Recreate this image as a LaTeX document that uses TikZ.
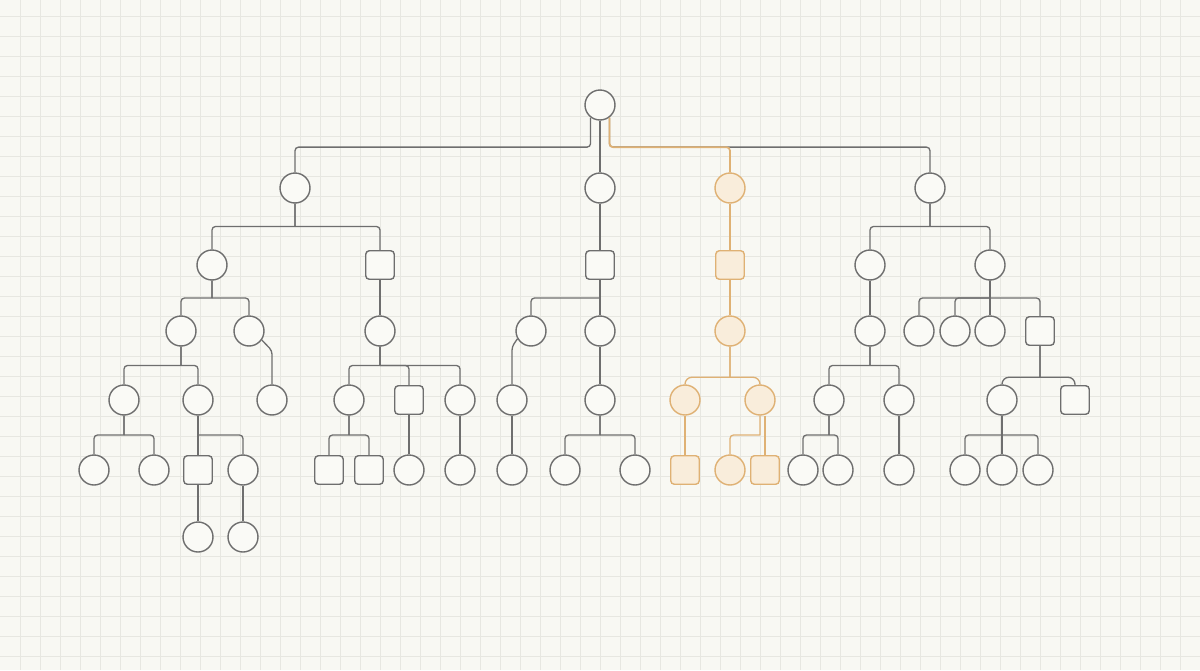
\documentclass[tikz,border=0pt]{standalone}
\usetikzlibrary{calc}
\definecolor{paper}{HTML}{F8F8F3}
\definecolor{gridc}{HTML}{E7E7E1}
\definecolor{ink}{HTML}{6E6E6E}
\definecolor{amber}{HTML}{DFB174}
\definecolor{amberfill}{HTML}{F9EDDB}
\definecolor{nodefill}{HTML}{FAFAF6}

\begin{document}
\begin{tikzpicture}[x=0.02cm,y=-0.02cm,
round/.style={circle,draw=ink,fill=nodefill,line width=0.8pt,inner sep=0pt,minimum size=0.6cm},
box/.style={rectangle,rounded corners=2pt,draw=ink,fill=nodefill,line width=0.8pt,inner sep=0pt,minimum size=0.57cm},
hround/.style={round,draw=amber,fill=amberfill},
hbox/.style={box,draw=amber,fill=amberfill},
link/.style={draw=ink,line width=0.75pt,rounded corners=2pt},
hlink/.style={link,draw=amber},
elbow/.style={to path={|- ($(\tikztostart)!#1!(\tikztotarget)$) -| (\tikztotarget) \tikztonodes}},
elbow/.default=.5,
bus/.style={to path={let \p1=($(\tikztostart)!#1!(\tikztotarget)$), \p2=(\tikztostart) in
  -- (\x2,\y1) (\x2,\y1) -| (\tikztotarget) \tikztonodes}},
bus/.default=.5,
gridline/.style={draw=gridc,line width=0.55pt},
]
\useasboundingbox (0,0) rectangle (1200,670);
\fill[paper] (0,0) rectangle (1200,670);

% squared paper
\foreach \gx in {1,...,59}
{
\draw[gridline] (20*\gx,0) -- (20*\gx,670);
}
\foreach \gy in {0,...,32}
{
\draw[gridline] (0,16.7+20*\gy) -- (1200,16.7+20*\gy);
}

\node [round] (R) at (600,105) {};

\node [round] (A) at (295,188) {};
\node [round] (B) at (600,188) {};
\node [hround] (C) at (730,188) {};
\node [round] (D) at (930,188) {};

% left branch
\node [round] (A1) at (212,265) {};
\node [box] (A2) at (380,265) {};
\node [round] (A11) at (181,331) {};
\node [round] (A12) at (249,331) {};
\node [round] (A21) at (380,331) {};
\node [round] (A111) at (124,400) {};
\node [round] (A112) at (198,400) {};
\node [round] (A121) at (272,400) {};
\node [round] (A211) at (349,400) {};
\node [box] (A212) at (409,400) {};
\node [round] (A213) at (460,400) {};
\node [round] (A1111) at (94,470) {};
\node [round] (A1112) at (154,470) {};
\node [box] (A1121) at (198,470) {};
\node [round] (A1122) at (243,470) {};
\node [box] (A2111) at (329,470) {};
\node [box] (A2112) at (369,470) {};
\node [round] (A2121) at (409,470) {};
\node [round] (A2131) at (460,470) {};
\node [round] (A11211) at (198,537) {};
\node [round] (A11221) at (243,537) {};

% middle branch
\node [box] (B1) at (600,265) {};
\node [round] (B11) at (531,331) {};
\node [round] (B12) at (600,331) {};
\node [round] (B111) at (512,400) {};
\node [round] (B121) at (600,400) {};
\node [round] (B1111) at (512,470) {};
\node [round] (B1211) at (565,470) {};
\node [round] (B1212) at (635,470) {};

% highlighted branch
\node [hbox] (C1) at (730,265) {};
\node [hround] (C11) at (730,331) {};
\node [hround] (C111) at (685,400) {};
\node [hround] (C112) at (760,400) {};
\node [hbox] (C1111) at (685,470) {};
\node [hround] (C1121) at (730,470) {};
\node [hbox] (C1122) at (765,470) {};

% right branch
\node [round] (D1) at (870,265) {};
\node [round] (D2) at (990,265) {};
\node [round] (D11) at (870,331) {};
\node [round] (D21) at (919,331) {};
\node [round] (D22) at (955,331) {};
\node [round] (D23) at (990,331) {};
\node [box] (D24) at (1040,331) {};
\node [round] (D111) at (829,400) {};
\node [round] (D112) at (899,400) {};
\node [round] (D241) at (1002,400) {};
\node [box] (D242) at (1075,400) {};
\node [round] (D1111) at (803,470) {};
\node [round] (D1112) at (838,470) {};
\node [round] (D1121) at (899,470) {};
\node [round] (D2411) at (965,470) {};
\node [round] (D2412) at (1002,470) {};
\node [round] (D2413) at (1038,470) {};

% root
\draw [link] (R.-127) to[elbow=.42] (A);
\draw [link] (R) -- (B);
\draw [link] (R.-53) to[elbow=.42] (D);

\foreach \c in {A1, A2}
{
\draw [link] (A) to[bus] (\c);
}
\foreach \c in {A11, A12}
{
\draw [link] (A1) to[bus] (\c);
}
\draw [link] (A2) -- (A21);
\foreach \c in {A111, A112}
{
\draw [link] (A11) to[bus] (\c);
}
\draw [link] (A12.-35) -- ($(A12.south -| A121)+(0,4)$) -- (A121);
\foreach \c in {A1111, A1112}
{
\draw [link] (A111) to[bus] (\c);
}
\draw [link] (A112) -- (A1121);
\draw [link] (A112) to[bus] (A1122);
\draw [link] (A1121) -- (A11211);
\draw [link] (A1122) -- (A11221);
\foreach \c in {A211, A212, A213}
{
\draw [link] (A21) to[bus] (\c);
}
\foreach \c in {A2111, A2112}
{
\draw [link] (A211) to[bus] (\c);
}
\draw [link] (A212) -- (A2121);
\draw [link] (A213) -- (A2131);

\draw [link] (B) -- (B1);
\draw [link] (B1) to[bus] (B11);
\draw [link] (B1) -- (B12);
\draw [link] (B11.-150) -- (B11.south -| B111) -- (B111);
\draw [link] (B111) -- (B1111);
\draw [link] (B12) -- (B121);
\foreach \c in {B1211, B1212}
{
\draw [link] (B121) to[bus] (\c);
}

\foreach \c in {D1, D2}
{
\draw [link] (D) to[bus] (\c);
}
\draw [link] (D1) -- (D11);
\foreach \c in {D111, D112}
{
\draw [link] (D11) to[bus] (\c);
}
\foreach \c in {D1111, D1112}
{
\draw [link] (D111) to[bus] (\c);
}
\draw [link] (D112) -- (D1121);
\foreach \c in {D21, D22, D24}
{
\draw [link] (D2) to[bus] (\c);
}
\draw [link] (D2) -- (D23);
\foreach \c in {D241, D242}
{
\draw [link,rounded corners=4pt] (D24) to[bus=.67] (\c);
}
\draw [link] (D241) to[bus] (D2411);
\draw [link] (D241) -- (D2412);
\draw [link] (D241) to[bus] (D2413);

% highlighted path on top
\draw [hlink,line width=1pt] (R.-53) to[elbow=.42] (C);
\draw [hlink] (C) -- (C1);
\draw [hlink] (C1) -- (C11);
\foreach \c in {C111, C112}
{
\draw [hlink,rounded corners=4pt] (C11) to[bus=.67] (\c);
}
\draw [hlink] (C111) -- (C1111);
\draw [hlink] (C112) to[bus] (C1121);
\draw [hlink] (C112.south -| C1122) -- (C1122);

\end{tikzpicture}
\end{document}
